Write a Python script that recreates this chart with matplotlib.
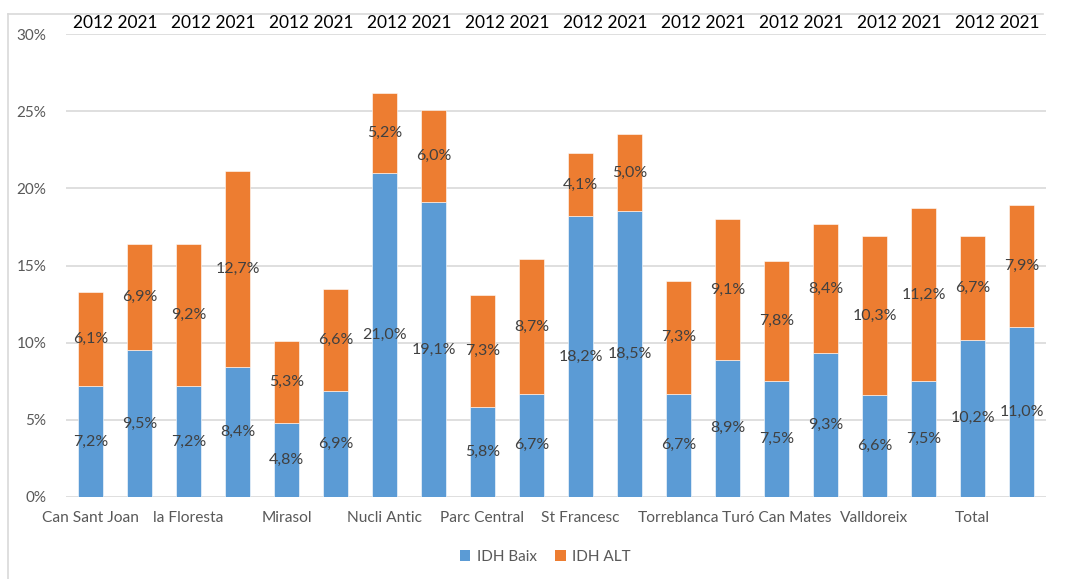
import matplotlib
matplotlib.use("Agg")
import matplotlib.pyplot as plt
from matplotlib.lines import Line2D
from matplotlib.patches import Patch
import numpy as np

plt.rcParams['font.family'] = ['Lato', 'DejaVu Sans']

neighbourhoods = ["Can Sant Joan", "la Floresta", "Mirasol", "Nucli Antic", "Parc Central",
                  "St Francesc", "Torreblanca", "Turó Can Mates", "Valldoreix", "Total"]
years = ["2012", "2021"]
idh_baix = [7.2, 9.5, 7.2, 8.4, 4.8, 6.9, 21.0, 19.1, 5.8, 6.7,
            18.2, 18.5, 6.7, 8.9, 7.5, 9.3, 6.6, 7.5, 10.2, 11.0]
idh_alt = [6.1, 6.9, 9.2, 12.7, 5.3, 6.6, 5.2, 6.0, 7.3, 8.7,
           4.1, 5.0, 7.3, 9.1, 7.8, 8.4, 10.3, 11.2, 6.7, 7.9]
series_names = ["IDH Baix", "IDH ALT"]

BLUE = "#5B9BD5"
ORANGE = "#ED7D31"
GRAY = "#595959"
LABEL = "#404040"

W, H = 1072, 579
fig = plt.figure(figsize=(W / 100, H / 100), dpi=100)
ax = fig.add_axes([66 / W, 82 / H, (1046 - 66) / W, (497 - 34) / H])

x = np.arange(len(idh_baix))
b = np.array(idh_baix)
a = np.array(idh_alt)
width = 0.53
ax.bar(x, b, width, color=BLUE, edgecolor="white", linewidth=0.4, zorder=2)
ax.bar(x, a, width, bottom=b, color=ORANGE, edgecolor="white", linewidth=0.4, zorder=2)

def fmt(v):
    return f"{v:.1f}%".replace(".", ",")

for xi, bv, av in zip(x, b, a):
    ax.text(xi, bv / 2, fmt(bv), ha="center", va="center", fontsize=11.5, color=LABEL, zorder=3)
    ax.text(xi, bv + av / 2, fmt(av), ha="center", va="center", fontsize=11.5, color=LABEL, zorder=3)

ax.set_xlim(-0.5, len(x) - 0.5)
ax.set_ylim(0, 30)
ax.set_yticks(np.arange(0, 31, 5))
ax.set_yticklabels([f"{t}%" for t in range(0, 31, 5)], color=GRAY, fontsize=11)
ax.yaxis.grid(True, color="#D9D9D9", linewidth=1.2, zorder=0)
ax.set_axisbelow(True)
for s in ax.spines.values():
    s.set_visible(False)
ax.tick_params(axis="y", length=0, pad=14)
ax.set_xticks(x[::2])
ax.set_xticklabels(neighbourhoods, color=GRAY, fontsize=11.2)
ax.tick_params(axis="x", length=0, pad=10)

# year labels above each pair of bars
for xi in x[::2]:
    ax.text(xi + 0.5, 1.0 + 3 / (497 - 34), " ".join(years), transform=ax.get_xaxis_transform(),
            ha="center", va="bottom", fontsize=12.5, color="black")

# chart-area border (top and left)
fig.add_artist(Line2D([8 / W, 1043 / W], [1 - 14 / H, 1 - 14 / H], color="#D9D9D9", lw=1.2))
fig.add_artist(Line2D([8 / W, 8 / W], [0, 1 - 14 / H], color="#D9D9D9", lw=1.2))

handles = [Patch(facecolor=BLUE, label=series_names[0]), Patch(facecolor=ORANGE, label=series_names[1])]
fig.legend(handles=handles, loc="center", bbox_to_anchor=(545 / W, 1 - 557 / H), ncol=2,
           frameon=False, fontsize=11, labelcolor=GRAY, handlelength=0.7, handleheight=0.7,
           handletextpad=0.4, columnspacing=1.2)

fig.savefig("out.png", dpi=100)
